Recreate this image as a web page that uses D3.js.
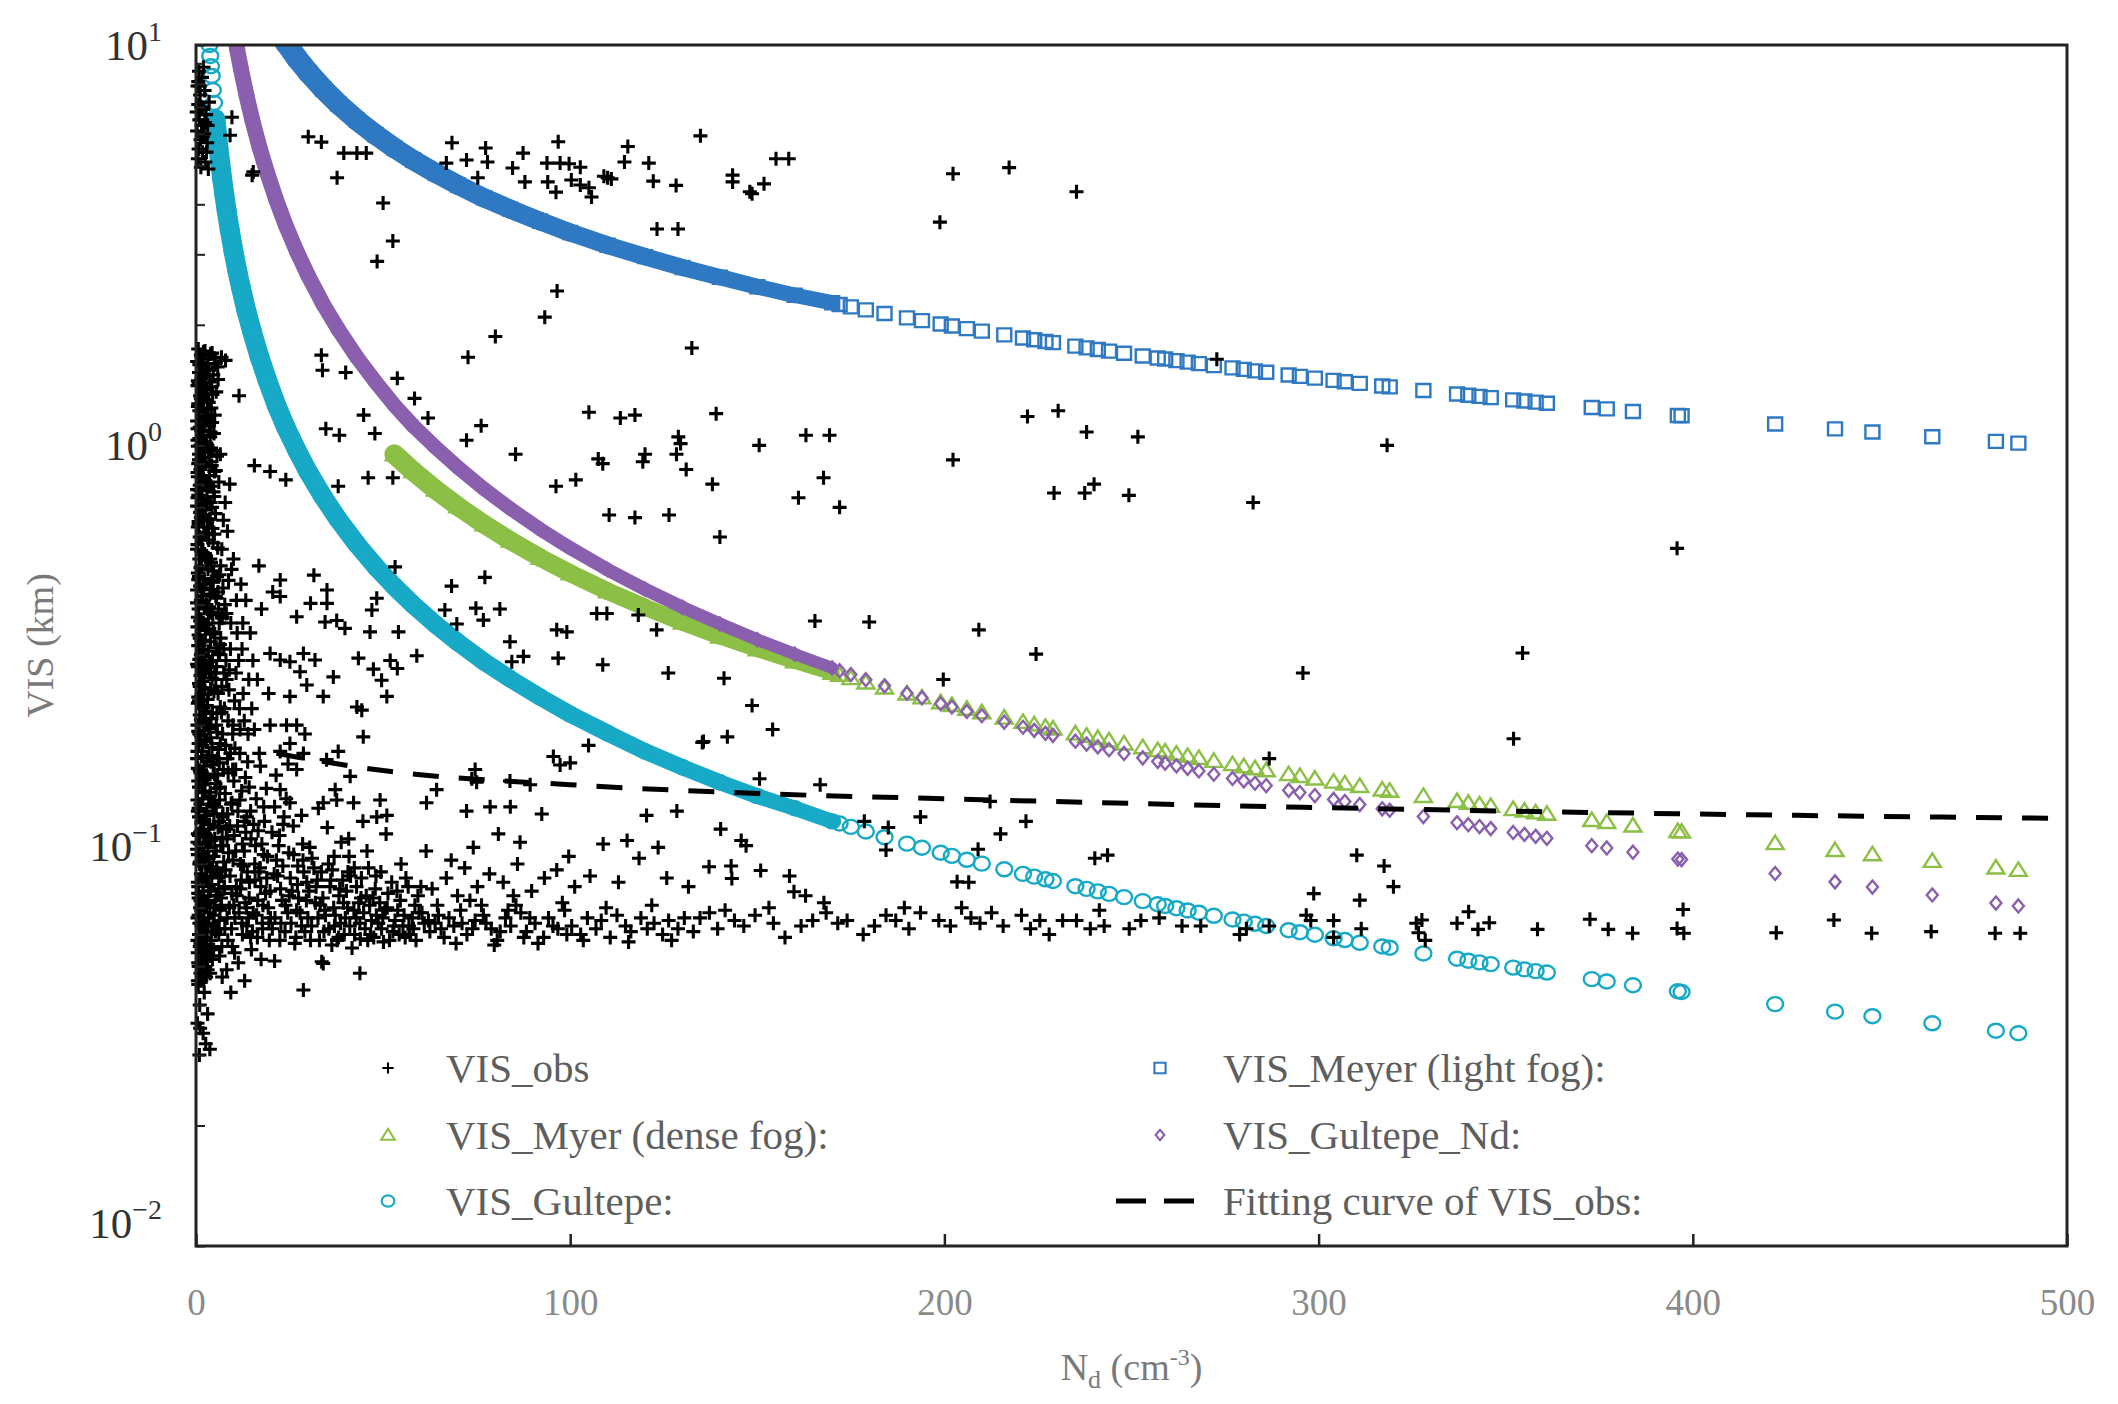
<!DOCTYPE html>
<html>
<head>
<meta charset="utf-8">
<script src="https://cdn.jsdelivr.net/npm/d3@7"></script>
<style>
  body { margin: 0; background: #fff; }
</style>
</head>
<body>
<div id="chart"></div>
<script>
// droplet number concentration (cm-3) at which the model curves are plotted
const ndModel = [3.4, 3.6, 3.8, 4.0, 4.2, 4.5, 4.8, 5.2, 5.6, 6, 6.5, 7, 7.6, 8.2, 9, 10, 11, 12, 13.5, 15,
  17, 19, 21.5, 24, 27, 30, 34, 38, 43, 48, 53, 58, 64, 70, 77, 84, 92, 100, 110, 120,
  130, 140, 150, 160, 170,
  172, 175, 179, 184, 190, 194, 199, 202, 206, 210, 216, 221, 224, 227, 229, 235, 238, 241, 244, 248,
  253, 257, 259, 262, 265, 268, 272, 277, 280, 283, 286, 292, 295, 299, 304, 307, 311, 317, 319, 328,
  337, 340, 343, 346, 352, 355, 358, 361, 373, 377, 384, 396, 397, 422, 438, 448, 464, 481, 487];

const visMeyerLight = [null, null, null, null, null, null, null, null, null, null, null, null, null, null, null, null, null, null, null, null,
  null, null, 11.03, 10.13, 9.26, 8.55, 7.77, 7.13, 6.49, 5.97, 5.53, 5.16, 4.79, 4.47, 4.15, 3.89, 3.63, 3.40, 3.16, 2.96,
  2.78, 2.63, 2.49, 2.37, 2.27,
  2.247, 2.218, 2.179, 2.134, 2.082, 2.049, 2.009, 1.987, 1.957, 1.929, 1.888, 1.854, 1.836, 1.817, 1.805, 1.769, 1.752, 1.736, 1.719, 1.698,
  1.672, 1.652, 1.643, 1.628, 1.614, 1.600, 1.582, 1.561, 1.548, 1.535, 1.522, 1.498, 1.487, 1.472, 1.453, 1.442, 1.428, 1.407, 1.400, 1.371,
  1.343, 1.334, 1.325, 1.316, 1.299, 1.291, 1.282, 1.274, 1.243, 1.233, 1.215, 1.187, 1.185, 1.131, 1.099, 1.080, 1.051, 1.023, 1.013];

const visMeyerDense = [null, null, null, null, null, null, null, null, null, null, null, null, null, null, null, null, null, null, null, null,
  null, null, null, null, null, null, null, null, null, null, 0.950, 0.862, 0.775, 0.704, 0.635, 0.578, 0.524, 0.479, 0.432, 0.394,
  0.361, 0.333, 0.3095, 0.2888, 0.2704,
  0.2670, 0.2621, 0.2557, 0.2483, 0.2399, 0.2346, 0.2282, 0.2246, 0.2198, 0.2154, 0.2089, 0.2038, 0.2009, 0.1980, 0.1962, 0.1908, 0.1882, 0.1857, 0.1832, 0.1800,
  0.1762, 0.1732, 0.1718, 0.1697, 0.1676, 0.1656, 0.1629, 0.1598, 0.1579, 0.1561, 0.1543, 0.1509, 0.1493, 0.1471, 0.1445, 0.1430, 0.1410, 0.1381, 0.1372, 0.1331,
  0.1293, 0.1280, 0.1268, 0.1257, 0.1234, 0.1223, 0.1211, 0.1201, 0.1159, 0.1146, 0.1123, 0.1087, 0.1084, 0.1015, 0.0975, 0.0952, 0.0916, 0.0882, 0.0870];

const visGultepeNd = [null, null, null, null, null, null, null, null, null, null, null, null, null, null, null, 11.05, 9.76, 8.72, 7.48, 6.52,
  5.54, 4.80, 4.09, 3.54, 3.04, 2.65, 2.25, 1.95, 1.66, 1.44, 1.26, 1.12, 0.989, 0.881, 0.778, 0.695, 0.617, 0.554, 0.489, 0.437,
  0.394, 0.358, 0.327, 0.301, 0.278,
  0.2736, 0.2676, 0.2598, 0.2507, 0.2404, 0.2340, 0.2263, 0.2220, 0.2164, 0.2111, 0.2035, 0.1976, 0.1941, 0.1908, 0.1886, 0.1824, 0.1794, 0.1765, 0.1737, 0.1700,
  0.1657, 0.1623, 0.1607, 0.1583, 0.1560, 0.1537, 0.1508, 0.1472, 0.1452, 0.1432, 0.1413, 0.1375, 0.1357, 0.1334, 0.1305, 0.1289, 0.1267, 0.1236, 0.1226, 0.1182,
  0.1141, 0.1128, 0.1116, 0.1103, 0.1079, 0.1067, 0.1055, 0.1043, 0.1000, 0.0987, 0.0963, 0.0926, 0.0923, 0.0852, 0.0812, 0.0788, 0.0753, 0.0719, 0.0707];

const visGultepe = [10.69, 10.0, 9.39, 8.85, 8.37, 7.72, 7.17, 6.53, 6.0, 5.53, 5.05, 4.63, 4.21, 3.85, 3.46, 3.06, 2.74, 2.48, 2.16, 1.92,
  1.66, 1.46, 1.26, 1.11, 0.970, 0.858, 0.743, 0.653, 0.566, 0.498, 0.444, 0.400, 0.357, 0.322, 0.288, 0.261, 0.235, 0.213, 0.191, 0.172,
  0.157, 0.144, 0.133, 0.124, 0.115,
  0.1136, 0.1114, 0.1085, 0.1050, 0.1012, 0.0988, 0.0960, 0.0943, 0.0922, 0.0902, 0.0873, 0.0850, 0.0837, 0.0824, 0.0816, 0.0792, 0.0780, 0.0769, 0.0758, 0.0744,
  0.0727, 0.0714, 0.0707, 0.0698, 0.0689, 0.0680, 0.0668, 0.0654, 0.0646, 0.0638, 0.0630, 0.0615, 0.0608, 0.0599, 0.0587, 0.0581, 0.0572, 0.0560, 0.0556, 0.0538,
  0.0522, 0.0516, 0.0511, 0.0506, 0.0496, 0.0491, 0.0486, 0.0482, 0.0464, 0.0458, 0.0448, 0.0433, 0.0431, 0.0402, 0.0385, 0.0375, 0.0360, 0.0345, 0.0340];

// observed visibility, [Nd, VIS]
const visObs = [
  // near the axis, high visibility
  [0.8,8.6],[1.6,8.3],[0.4,7.9],[2.3,7.7],[1.1,7.5],[0.6,7.1],[1.9,6.9],[2.7,6.7],[0.9,6.5],[1.5,6.3],
  [0.3,6.1],[2.2,6.0],[1.2,5.8],[3.0,5.7],[0.7,5.5],[1.7,5.4],[0.5,5.2],[2.5,5.1],[1.3,4.95],[3.3,4.9],
  [1.0,7.9],[2.0,8.8],[3.1,6.3],[2.8,5.4],[0.2,6.8],[1.4,7.0],[3.5,7.2],[0.6,8.1],[2.4,6.4],[1.8,5.9],
  [9.6,6.6],[9.1,5.95],[15,4.73],[15.3,4.82],
  // upper scatter
  [30,5.9],[33.5,5.72],[39.5,5.37],[43,5.37],[45.5,5.37],[37.7,4.66],[50,4.03],[52.6,3.24],[48.4,2.88],[68.4,5.7],
  [77.4,5.53],[72.3,5.16],[77.9,5.1],[75.3,4.66],[66.9,5.07],[84.6,4.93],[87.4,5.37],[87.9,4.55],[94,4.55],[96.8,5.73],
  [93.8,5.07],[97.3,5.07],[99.7,5.05],[102.7,4.95],[96.2,4.29],[100.3,4.6],[102.7,4.47],[105.7,4.17],[105,4.4],[110,4.66],
  [109,4.7],[111,4.63],[115.4,5.58],[114.5,5.1],[121,5.07],[134.8,5.93],[122.2,4.57],[128.3,4.46],[143.4,4.73],[143.4,4.55],
  [151.8,4.5],[148.6,4.25],[148,4.3],[155,5.2],[158.4,5.2],[202.3,4.77],[217.3,4.94],[235.3,4.3],[198.8,3.61],[123.2,3.47],[128.8,3.47],
  // middle scatter
  [96.5,2.43],[93.2,2.09],[80,1.87],[72.7,1.66],[132.5,1.75],[33.5,1.68],[33.8,1.54],[40,1.52],[53.8,1.47],[58.4,1.31],
  [62,1.17],[11.5,1.33],[44.8,1.19],[34.7,1.1],[38.3,1.06],[47.8,1.07],[76.2,1.12],[72.3,1.03],[105,1.21],[113.4,1.17],
  [117.3,1.19],[128.9,1.05],[129.5,1.01],[139,1.2],[85.4,0.95],[107.5,0.925],[108.7,0.9],[120,0.95],[119.4,0.91],[128.4,0.95],
  [131,0.87],[138,0.8],[150.5,1.0],[163,1.06],[169.3,1.06],[167.7,0.83],[161,0.74],[172,0.70],[110.4,0.67],[117.3,0.66],
  [126.4,0.67],[140,0.59],[202.3,0.92],[222.2,1.18],[230.4,1.22],[238,1.08],[251.7,1.05],[229.3,0.76],[237.5,0.76],[240,0.8],
  [249.3,0.75],[282.5,0.72],[318.3,1.0],[272.8,1.64],[15.6,0.89],[19.8,0.86],[24,0.82],[46,0.83],[52.6,0.83],[38,0.79],
  [96.2,0.79],[101.5,0.82],[395.8,0.553],[354.5,0.303],[352.1,0.185],[295.8,0.27],
  // 0.1 - 0.5 km scatter
  [165.4,0.364],[179.9,0.362],[209.2,0.346],[224.5,0.301],[141.1,0.262],[199.7,0.26],[148.6,0.224],[154.1,0.195],[142,0.187],[135.3,0.181],
  [150.6,0.147],[166.8,0.142],[212.2,0.129],[193.6,0.118],[221.8,0.115],[178.6,0.115],[140.2,0.11],[185,0.111],[145.7,0.103],[147,0.1],
  [215,0.107],[184.4,0.0975],[209,0.098],[240.2,0.093],[243.6,0.0947],[137.1,0.0886],[143,0.089],[143.2,0.0828],[150.9,0.0867],[158.6,0.084],
  [203.4,0.0812],[206.5,0.081],[159.8,0.0767],[162.9,0.075],[310.2,0.0947],[317.5,0.089],[320,0.079],[298.7,0.0759],[311,0.0731],[286.8,0.165],
  [22.5,0.461],[22.5,0.419],[31.5,0.474],[35,0.435],[35,0.403],[30.6,0.403],[26.9,0.373],[34.5,0.362],[37.6,0.365],[39.8,0.349],
  [46.5,0.342],[47,0.388],[48.3,0.415],[54.1,0.342],[53.2,0.497],[68.3,0.445],[77.2,0.468],[66.5,0.388],[74.8,0.392],[81.2,0.39],
  [76.8,0.366],[69.7,0.358],[96.4,0.346],[99.1,0.342],[107.1,0.38],[109.8,0.38],[118.2,0.377],[123.1,0.346],[83.9,0.323],[87.5,0.297],
  [84.4,0.288],[96.8,0.294],[108.7,0.283],[126.2,0.27],[59,0.298],[53.8,0.277],[51.9,0.29],[43.4,0.294],[43,0.222],[44.3,0.218],
  [44.7,0.187],[51,0.236],[47.4,0.276],[49.6,0.259],[36.7,0.264],[34,0.236],[31.8,0.291],[28.7,0.302],[25.1,0.288],[19.8,0.302],
  [22.5,0.291],[27.8,0.272],[29.6,0.252],[25.1,0.236],[24.2,0.2],[26.9,0.2],[29.1,0.19],[25.1,0.18],[22.5,0.172],[28.7,0.17],
  [34.9,0.164],[38,0.172],[41.2,0.149],[37.2,0.138],[26.9,0.155],[22.5,0.138],[25.1,0.128],[34,0.128],[37.6,0.13],[42.1,0.128],
  [49.2,0.13],[48.3,0.118],[51,0.119],[61.6,0.128],[64.3,0.138],[95.5,0.167],[97.3,0.159],[100,0.161],[104.9,0.178],[135.6,0.182],
  [120.4,0.119],[128.5,0.122],[92.4,0.12],[84,0.125],[78.6,0.125],[72.3,0.122],[73.7,0.147],[75,0.144],[89.3,0.142],[74.6,0.155],[83.9,0.145],
  // fan close to the axis
  [6.5,0.95],[7.8,0.72],[8.4,0.61],[6.9,0.55],[9.5,0.49],[7.2,0.44],[10.8,0.41],[8.1,0.38],[12.5,0.36],[6.6,0.33],
  [9.2,0.31],[11.4,0.29],[7.5,0.27],[14.1,0.26],[8.8,0.245],[10.3,0.23],[6.8,0.215],[12.9,0.205],[15.6,0.195],[9.8,0.19],
  [7.9,0.178],[11.7,0.17],[13.8,0.162],[17.2,0.158],[8.6,0.152],[10.1,0.145],[6.4,0.14],[12.2,0.137],[16.1,0.131],[9.4,0.127],
  [14.6,0.122],[7.1,0.118],[18.3,0.115],[11.1,0.112],[13.3,0.108],[8.3,0.104],[15.9,0.1],[10.6,0.097],[19.1,0.094],[7.4,0.091],
  [12.7,0.089],[16.8,0.086],[9.1,0.084],[14.3,0.081],[11.9,0.078],[18.6,0.076],[6.7,0.074],[13.1,0.072],[8.9,0.07],[15.3,0.068],
  [10.4,0.066],[17.7,0.064],[7.7,0.062],[12.4,0.06],[19.6,0.058],[9.7,0.056],[14.8,0.055],[6.3,0.053],[11.3,0.051],[8.2,0.049],
  [7.0,0.047],[16.4,0.059],[13.6,0.063],[10.9,0.075],[17.9,0.071],[19.9,0.066],[6.1,0.083],[8.7,0.096],[16.6,0.109],[18.8,0.139],
  [13.9,0.19],[11.6,0.22],[19.4,0.24],[8.0,0.29],[10.0,0.52],[12.0,0.45],[7.3,0.65],[14.5,0.34],[9.0,0.8],[17.5,0.39],[20.5,0.43],[16.8,0.5],
  [5.6,0.47],[7.7,0.4],[9.3,0.36],[6.3,0.3],[8.2,0.26],[10.7,0.27],[12.3,0.31],[5.9,0.24],[7.6,0.22],[9.9,0.2],
  [11.8,0.195],[14.9,0.22],[6.5,0.18],[8.4,0.165],[10.6,0.155],[13.2,0.148],[16.9,0.17],[5.8,0.15],[7.8,0.135],[9.6,0.128],
  [11.2,0.122],[13.6,0.118],[15.4,0.113],[18.1,0.125],[6.1,0.115],[8.1,0.11],[10.2,0.106],[12.4,0.101],[14.7,0.104],[17.6,0.101],
  [20.3,0.108],[23.3,0.113],[21.4,0.15],[24.6,0.16],[19.8,0.2],[16.4,0.26],[13.3,0.41],[11.0,0.34],[8.7,0.46],[7.0,0.37],
  [5.3,0.42],[6.2,0.36],[7.4,0.31],[5.5,0.28],[8.9,0.275],[6.9,0.25],[5.4,0.2],[8.6,0.205],[7.1,0.19],[9.2,0.17],
  [5.7,0.165],[7.3,0.155],[9.8,0.155],[6.3,0.13],[8.4,0.12],[11.7,0.13],[5.4,0.125],[7.0,0.105],[9.0,0.112],[12.9,0.115],
  [14.2,0.14],[10.4,0.175],[12.6,0.24],[15.2,0.29],[6.0,0.39],
  // 5 - 60 cm-3 cloud
  [21,0.125],[23.5,0.118],[26,0.112],[22.3,0.106],[28.5,0.101],[24.8,0.096],[31,0.093],[27.2,0.089],[33.5,0.086],[21.8,0.084],
  [29.6,0.081],[35.8,0.079],[25.7,0.077],[38.2,0.075],[23,0.073],[31.9,0.072],[40.5,0.07],[27.8,0.068],[34.6,0.067],[42.8,0.066],
  [22.7,0.064],[37,0.063],[45.2,0.062],[29.1,0.061],[39.6,0.06],[47.5,0.059],[33,0.058],[43.9,0.0585],[26.4,0.057],[50.1,0.0575],
  [36.3,0.0565],[41.7,0.0555],[52.6,0.061],[48.7,0.064],[55.3,0.063],[57.8,0.066],[53.9,0.069],[46.4,0.071],[59.6,0.068],[44.1,0.074],
  [51.3,0.076],[56.7,0.079],[39.2,0.082],[48.1,0.084],[42.3,0.088],[54.8,0.09],[36.9,0.094],[45.7,0.097],[30.4,0.099],[40.8,0.104],
  [50.8,0.107],[35.1,0.111],[44.6,0.115],[28.2,0.119],[32.7,0.124],[24.1,0.131],[38.8,0.102],[58.5,0.071],[49.9,0.066],[61,0.064],
  [5.5,0.088],[7.6,0.079],[9.9,0.092],[11.5,0.068],[13.7,0.086],[15.1,0.061],[17.3,0.079],[19.3,0.07],[21.5,0.092],[23.8,0.061],
  [25.2,0.083],[27.4,0.074],[29.9,0.066],[32.1,0.079],[34.2,0.061],[36.8,0.07],[38.6,0.064],[40.2,0.077],[42.4,0.06],[44.8,0.068],
  [46.9,0.065],[49.1,0.072],[51.7,0.058],[53.2,0.065],[55.9,0.059],[58.1,0.062],[6.2,0.065],[8.5,0.058],[10.3,0.054],[12.1,0.082],
  [14.2,0.074],[16.2,0.067],[18.1,0.095],[20.4,0.062],[22.6,0.078],[24.5,0.068],[26.7,0.059],[28.8,0.086],[30.9,0.063],[33.2,0.071],
  [35.4,0.09],[37.7,0.058],[39.9,0.066],[41.3,0.084],[43.5,0.072],[45.9,0.058],[47.9,0.078],[50.5,0.069],[52.3,0.081],[54.6,0.073],
  [57.2,0.06],[59.3,0.075],[7.2,0.1],[9.6,0.076],[12.9,0.097],[15.7,0.09],[18.9,0.083],[22.1,0.1],[26.1,0.095],[31.5,0.088],
  [36,0.082],[40.9,0.094],[46.1,0.088],
  [5.2,0.061],[6.8,0.071],[8.3,0.066],[9.5,0.062],[10.8,0.079],[12.3,0.064],[13.5,0.07],[14.6,0.059],[16.5,0.073],[17.8,0.062],
  [19.8,0.077],[21.1,0.066],[22.4,0.058],[23.9,0.071],[25.4,0.064],[26.9,0.069],[28.2,0.063],[29.5,0.073],[30.6,0.058],[32.6,0.066],
  [33.9,0.074],[35.5,0.062],[37.2,0.067],[38.1,0.059],[39.4,0.072],[41.1,0.063],[42.2,0.069],[43.8,0.064],[45.5,0.075],[46.6,0.06],
  [48.2,0.067],[49.6,0.062],[51.1,0.07],[52.9,0.063],[54.3,0.06],[55.6,0.067],[56.9,0.063],[58.8,0.058],[60.4,0.068],[62.1,0.065],
  [65.5,0.062],[67.6,0.066],[71.1,0.064],[73.9,0.062],[77.5,0.064],[81.3,0.061],[83.4,0.069],[89.2,0.066],[95.4,0.063],[99.1,0.06],
  [6.0,0.078],[7.9,0.087],[10.1,0.071],[11.9,0.09],[14.0,0.066],[15.8,0.082],[17.1,0.088],[19.5,0.064],[20.9,0.085],[23.2,0.089],
  [24.9,0.075],[27.1,0.08],[28.6,0.092],[30.2,0.077],[32.4,0.082],[34.4,0.069],[36.4,0.087],[38.4,0.078],[40.6,0.086],[42.9,0.079],
  [44.2,0.083],[47.3,0.074],[49.4,0.086],[53.7,0.077],[56.1,0.083],[60.1,0.079],[64.5,0.071],[69.9,0.075],[76.8,0.067],[84.8,0.075],
  // 60 - 135 cm-3 lower band
  [62.5,0.061],[64.8,0.067],[66.3,0.059],[68.9,0.063],[70.7,0.069],[72.4,0.06],[74.6,0.065],[76.3,0.071],[78.9,0.062],[80.5,0.058],
  [82.7,0.066],[84.1,0.063],[86.8,0.068],[88.3,0.061],[90.6,0.064],[92.9,0.059],[94.2,0.066],[96.7,0.062],[98.5,0.069],[100.4,0.063],
  [102.8,0.06],[104.6,0.066],[106.9,0.062],[108.3,0.065],[110.7,0.059],[112.5,0.067],[114.8,0.063],[116.2,0.061],[118.9,0.066],[120.6,0.062],
  [122.4,0.064],[124.7,0.06],[126.3,0.065],[128.8,0.062],[130.5,0.066],[132.9,0.061],[69.5,0.057],[79.7,0.0565],[91.4,0.057],[103.5,0.058],
  [115.6,0.0575],[127.1,0.058],[73.2,0.073],[85.5,0.071],[97.9,0.072],[109.6,0.07],[121.8,0.071],[63.9,0.064],[87.6,0.059],
  [63.1,0.078],[66.9,0.083],[71.8,0.088],[75.2,0.079],[68.2,0.092],[78.4,0.085],[82.1,0.081],[85.9,0.09],[89.7,0.077],[93.1,0.083],
  [61.5,0.097],[74.1,0.099],[96.4,0.087],[101.2,0.079],[105.3,0.084],[112.9,0.081],[118.4,0.093],[125.8,0.083],[131.6,0.079],[108.8,0.101],
  [123.5,0.099],[99.6,0.094],[80.8,0.107],[86.6,0.102],[115.2,0.103],
  // 135 - 330 cm-3 lower band
  [134.7,0.066],[137.2,0.068],[139.4,0.062],[141.4,0.069],[143.9,0.065],[146.4,0.063],[149.4,0.067],[153.1,0.070],[154.3,0.064],[157.4,0.059],
  [161.7,0.063],[164.8,0.065],[167.8,0.072],[168.4,0.068],[171.5,0.064],[174,0.065],[178.3,0.060],[181.3,0.063],[184.4,0.067],[187,0.065],
  [189.3,0.070],[190.5,0.062],[193.6,0.068],[198.5,0.065],[201.6,0.063],[204.6,0.070],[207.1,0.066],[209.5,0.064],[212.6,0.068],[215.7,0.063],
  [220.6,0.067],[223,0.062],[225.5,0.065],[228,0.060],[231.6,0.065],[235.3,0.065],[239,0.062],[241.4,0.069],[242.7,0.063],[249.4,0.062],
  [252.5,0.065],[257.4,0.066],[263.5,0.063],[268.5,0.063],[278.9,0.060],[280.7,0.062],[286.8,0.063],[296.7,0.067],[297.9,0.065],[304,0.065],
  [304,0.059],[311.4,0.062],[326.1,0.064],
  // sparse right part
  [327.6,0.0652],[326.7,0.0606],[328.5,0.058],[337,0.064],[340.1,0.0684],[342.6,0.0618],[345.6,0.0642],[358.5,0.0618],[372.5,0.0655],[377.4,0.0618],
  [383.9,0.0604],[395.8,0.0621],[397.4,0.0693],[397.6,0.0604],[422.3,0.0606],[437.7,0.0652],[447.8,0.0604],[463.7,0.061],[480.8,0.0604],[487.5,0.0604],
  // low outliers
  [34,0.0508],[43.8,0.048],[28.7,0.0436],[33.6,0.0513],[21,0.0515],[13,0.046],[9.3,0.043],[17.4,0.052],
  [0.5,0.046],[2.2,0.043],[1.0,0.04],[3.1,0.038],[0.4,0.036],[1.9,0.034],[2.6,0.032],[0.9,0.03],[3.7,0.031],[1.1,0.035],
  // dense column next to the axis
  [0.6,1.74],[2.4,1.72],[4.3,1.7],[1.3,1.68],[6.8,1.66],[3.2,1.64],[0.3,1.62],[5.1,1.6],[1.9,1.58],[7.9,1.63],
  [2.8,1.55],[0.8,1.52],[4.6,1.5],[1.5,1.47],[3.7,1.44],[0.4,1.41],[2.2,1.38],[5.4,1.36],[1.1,1.33],[3.0,1.3],
  [0.6,1.27],[4.1,1.24],[1.8,1.21],[2.7,1.18],[0.3,1.15],[3.5,1.12],[1.4,1.09],[4.8,1.07],[0.9,1.04],[2.3,1.02],
  [0.5,0.995],[3.3,0.98],[1.7,0.96],[5.6,0.94],[0.8,0.92],[2.6,0.905],[4.2,0.89],[1.2,0.87],[0.4,0.855],[3.6,0.84],
  [2.0,0.825],[6.1,0.81],[1.0,0.795],[2.9,0.78],[4.7,0.765],[0.6,0.75],[1.6,0.735],[3.9,0.72],[0.3,0.705],[2.4,0.69],
  [5.2,0.675],[1.3,0.66],[3.1,0.65],[0.7,0.635],[4.4,0.62],[2.1,0.605],[1.0,0.59],[3.4,0.58],[0.4,0.565],[5.8,0.555],
  [1.8,0.54],[2.7,0.53],[0.9,0.52],[4.0,0.51],[1.5,0.5],
  [3.2,0.49],[0.5,0.48],[6.3,0.475],[2.2,0.465],[4.6,0.455],[1.1,0.445],[0.3,0.435],[3.7,0.425],[5.5,0.415],[1.8,0.408],
  [2.8,0.4],[0.7,0.39],[4.1,0.382],[6.9,0.375],[1.4,0.368],[3.3,0.36],[0.4,0.352],[2.5,0.345],[5.0,0.338],[1.0,0.33],
  [3.9,0.323],[0.6,0.316],[2.0,0.31],[6.0,0.303],[1.6,0.296],[4.4,0.29],[0.3,0.284],[2.9,0.278],[3.6,0.272],[1.2,0.266],
  [5.3,0.26],[0.8,0.254],[2.3,0.248],[4.8,0.243],[1.5,0.238],[3.1,0.232],[0.5,0.227],[6.5,0.222],[2.6,0.217],[1.0,0.212],
  [4.0,0.208],[1.9,0.204],[0.4,0.2],[3.4,0.196],[5.7,0.192],
  [1.3,0.188],[2.7,0.184],[0.7,0.18],[4.3,0.176],[1.8,0.172],[3.5,0.168],[0.3,0.165],[6.2,0.161],[2.2,0.158],[1.0,0.154],
  [4.9,0.151],[3.0,0.148],[0.6,0.145],[1.6,0.142],[5.4,0.139],[2.4,0.136],[3.8,0.133],[0.4,0.13],[1.2,0.127],[4.5,0.125],
  [2.9,0.122],[7.2,0.12],[0.8,0.118],[2.0,0.115],[3.6,0.113],[5.9,0.111],[1.4,0.109],[0.5,0.107],[2.6,0.105],[4.1,0.103],
  [1.0,0.101],[6.6,0.1],[3.2,0.099],
  [0.3,0.098],[1.7,0.096],[4.7,0.094],[2.3,0.092],[0.9,0.09],[3.9,0.088],[5.6,0.086],[1.3,0.085],[2.8,0.083],[0.5,0.081],
  [4.2,0.08],[7.5,0.078],[1.9,0.077],[3.3,0.075],[0.7,0.074],[5.1,0.073],[2.5,0.071],[1.1,0.07],[6.4,0.069],[3.7,0.068],
  [0.4,0.066],[2.0,0.065],[4.6,0.064],[1.5,0.063],[5.8,0.062],[3.0,0.061],[0.8,0.06],[2.4,0.059],[4.0,0.058],[1.2,0.057],
  [6.9,0.056],[3.5,0.055],[0.5,0.054],[2.1,0.053],[4.4,0.052],[1.6,0.051],[0.9,0.05],[3.1,0.049],[2.7,0.047],[1.4,0.046],[0.6,0.045],
  [3.9,1.69],[1.0,1.61],[5.8,1.57],[2.6,1.49],[0.5,1.45],[4.2,1.4],[1.7,1.35],[3.4,1.28],[0.9,1.22],[5.0,1.19],
  [2.0,1.13],[0.4,1.1],[3.8,1.05],[1.2,1.0],[4.5,0.97],[2.3,0.935],[0.6,0.9],[5.3,0.865],[1.5,0.83],[3.2,0.8],
  [0.3,0.775],[4.9,0.745],[2.2,0.715],[1.1,0.68],[3.8,0.655],[0.5,0.625],[2.6,0.598],[4.6,0.57],[1.4,0.545],[3.0,0.515],
  [6.6,0.5],[0.8,0.47],[4.3,0.46],[2.0,0.44],[5.9,0.43],[1.3,0.41],[3.5,0.395],[0.5,0.372],[2.7,0.356],[4.7,0.342],
  [1.5,0.325],[6.4,0.318],[3.3,0.306],[0.9,0.292],[2.4,0.276],[5.1,0.27],[1.8,0.257],[3.9,0.246],[0.6,0.235],[2.9,0.224],
  [5.6,0.214],[1.3,0.206],[3.7,0.198],[0.9,0.19],[2.5,0.182],[6.0,0.174],[1.5,0.167],[4.0,0.162],[0.5,0.156],[2.8,0.15],
  [5.2,0.143],[1.9,0.137],[3.4,0.131],[0.7,0.124],[4.8,0.12],[2.2,0.116],[6.3,0.112],[1.1,0.108],[3.8,0.104],[0.4,0.102],
  [5.4,0.097],[2.6,0.094],[1.0,0.091],[4.4,0.087],[6.8,0.084],[1.8,0.082],[3.4,0.079],[0.6,0.076],[5.5,0.075],[2.9,0.072],
  [1.4,0.069],[4.8,0.067],[0.9,0.064],[3.2,0.063],[6.1,0.06],[2.2,0.058],[1.0,0.056],[4.7,0.055],[2.9,0.052],[0.7,0.05],
  [3.8,0.048],[1.9,0.047],
  [2.0,1.71],[4.9,1.65],[0.9,1.59],[3.5,1.54],[1.6,1.51],[5.9,1.46],[0.7,1.43],[2.9,1.39],[4.4,1.34],[1.3,1.31],
  [0.5,1.25],[3.1,1.23],[2.4,1.16],[4.3,1.14],[1.0,1.11],[3.9,1.08],[1.9,1.06],[0.4,1.03],[2.8,1.01],[4.0,0.985],
  [0.8,0.95],[2.1,0.93],[3.6,0.91],[1.4,0.885],[4.9,0.86],[0.5,0.835],[2.5,0.815],[3.9,0.79],[1.2,0.77],[0.4,0.74],
  [2.9,0.725],[4.3,0.7],[1.8,0.67],[0.7,0.645],[3.3,0.625],[4.9,0.6],[1.6,0.585],[0.3,0.55],[2.3,0.535],[3.8,0.52],
  [1.2,0.495],[4.7,0.485],[0.6,0.462],[2.6,0.45],[3.9,0.436],[1.6,0.42],[0.3,0.404],[2.2,0.392],[4.5,0.378],[1.1,0.364],
  [3.0,0.348],[0.7,0.336],[2.4,0.326],[5.4,0.312],[1.3,0.3],[3.6,0.288],[0.5,0.28],[2.1,0.27],[4.3,0.262],[1.0,0.25],
  [3.3,0.24],[0.8,0.23],[2.0,0.221],[4.4,0.214],[1.4,0.207],[2.7,0.2],[0.6,0.193],[3.9,0.186],[1.6,0.178],[0.4,0.172],
  [2.9,0.166],[4.6,0.159],[1.2,0.152],[2.3,0.146],[0.8,0.14],[3.8,0.136],[1.7,0.131],[4.7,0.127],[0.5,0.122],[2.6,0.119],
  [1.4,0.114],[3.3,0.11],[0.8,0.106],[5.0,0.104],[2.0,0.1],[0.5,0.095],[3.4,0.093],[1.6,0.089],[4.9,0.086],[2.6,0.084],
  [0.6,0.079],[3.9,0.077],[1.2,0.073],[2.1,0.071],[4.8,0.07],[0.7,0.067],[3.3,0.066],[1.7,0.062],[4.2,0.061],[0.4,0.058],
  [2.8,0.056],[1.5,0.054],[3.9,0.053],[0.6,0.051],[2.5,0.05],[1.2,0.048]
];

// fitting curve of VIS_obs
const fitNd = [21.5, 50, 100, 150, 200, 300, 400, 500];
const fitVis = [0.170, 0.154, 0.142, 0.135, 0.131, 0.1245, 0.120, 0.117];

const xTicks = [0, 100, 200, 300, 400, 500];
const yTickExp = [1, 0, -1, -2];

const width = 2118, height = 1404;
const plotL = 196, plotR = 2067, plotT = 45, plotB = 1246;
const font = "'Liberation Serif', 'DejaVu Serif', serif";

const svg = d3.select("#chart")
    .append("svg")
    .attr("width", width)
    .attr("height", height);

const x = d3.scaleLinear().domain([0, 500]).range([plotL, plotR]);
const y = d3.scaleLog().domain([0.01, 10]).range([plotB, plotT]);

svg.append("defs").append("clipPath").attr("id", "plotClip")
    .append("rect")
    .attr("x", plotL - 10).attr("y", plotT)
    .attr("width", plotR - plotL + 10).attr("height", plotB - plotT);

const shapes = {
    plus: "M-7,0H7M0,-7V7",
    square: "M-7,-6.5H7V6.5H-7Z",
    triangle: "M0,-7.5L8.5,6H-8.5Z",
    diamond: "M0,-6.5L5.5,0L0,6.5L-5.5,0Z",
    circle: "M-8,0A8,7 0 1,0 8,0A8,7 0 1,0 -8,0Z"
};

// band = width of the overlapped marker ribbon at its start and at bandTo
const models = [
    { name: "VIS_Meyer (light fog):", vis: visMeyerLight, color: "#2f78c2", shape: "square", band: [22, 15], bandFrom: 0 },
    { name: "VIS_Myer (dense fog):", vis: visMeyerDense, color: "#8cbf45", shape: "triangle", band: [20, 15], bandFrom: 0 },
    { name: "VIS_Gultepe_Nd:", vis: visGultepeNd, color: "#8a5fae", shape: "diamond", band: [16, 12], bandFrom: 0 },
    { name: "VIS_Gultepe:", vis: visGultepe, color: "#17a9c6", shape: "circle", band: [20, 15], bandFrom: 5.2 }
];
const bandTo = 170;

const plot = svg.append("g").attr("clip-path", "url(#plotClip)");

const line = d3.line()
    .x(d => x(d.nd))
    .y(d => y(d.v))
    .curve(d3.curveMonotoneX);

models.forEach(m => {
    const pts = ndModel.map((nd, i) => ({ nd: nd, v: m.vis[i] })).filter(d => d.v != null);
    const bandPts = pts.filter(d => d.nd >= m.bandFrom && d.nd <= bandTo);
    const w = d3.scaleLinear().domain([bandPts[0].nd, bandTo]).range(m.band);

    plot.append("g")
        .selectAll("line")
        .data(d3.pairs(bandPts))
        .join("line")
        .attr("x1", d => x(d[0].nd)).attr("y1", d => y(d[0].v))
        .attr("x2", d => x(d[1].nd)).attr("y2", d => y(d[1].v))
        .attr("stroke", m.color)
        .attr("stroke-width", d => w((d[0].nd + d[1].nd) / 2))
        .attr("stroke-linecap", "round");

    plot.append("g")
        .selectAll("path")
        .data(pts)
        .join("path")
        .attr("transform", d => `translate(${x(d.nd)},${y(d.v)})`)
        .attr("d", shapes[m.shape])
        .attr("fill", "none")
        .attr("stroke", m.color)
        .attr("stroke-width", 2.4);
});

plot.append("g")
    .selectAll("path")
    .data(visObs)
    .join("path")
    .attr("transform", d => `translate(${x(d[0])},${y(d[1])})`)
    .attr("d", shapes.plus)
    .attr("fill", "none")
    .attr("stroke", "#000")
    .attr("stroke-width", 3.1);

plot.append("path")
    .datum(fitNd.map((nd, i) => ({ nd: nd, v: fitVis[i] })))
    .attr("d", line)
    .attr("fill", "none")
    .attr("stroke", "#000")
    .attr("stroke-width", 5)
    .attr("stroke-dasharray", "26,20");

// x axis, ticks pointing inwards
const xAxis = svg.append("g")
    .attr("transform", `translate(0,${plotB})`)
    .call(d3.axisBottom(x).tickValues(xTicks).tickSize(-12).tickPadding(43));
xAxis.select(".domain").remove();
xAxis.selectAll(".tick line").attr("stroke", "#222").attr("stroke-width", 2.5);
xAxis.selectAll(".tick text")
    .style("font-family", font)
    .style("font-size", "37px")
    .attr("fill", "#8a8a8a");

// y axis minor / major ticks
const yAxis = svg.append("g")
    .attr("transform", `translate(${plotL},0)`)
    .call(d3.axisLeft(y).tickValues(y.ticks()).tickSize(-9).tickFormat(""));
yAxis.select(".domain").remove();
yAxis.selectAll(".tick line").attr("stroke", "#222").attr("stroke-width", 2);

const yLab = svg.append("g");
yTickExp.forEach(e => {
    const ty = Math.min(y(Math.pow(10, e)), plotB - 23);
    const t = yLab.append("text")
        .attr("x", 162)
        .attr("y", ty)
        .attr("text-anchor", "end")
        .attr("dominant-baseline", "central")
        .style("font-family", font)
        .style("font-size", "43px")
        .attr("fill", "#333");
    t.append("tspan").text("10");
    t.append("tspan")
        .attr("dy", -14)
        .style("font-size", "28px")
        .text(e < 0 ? "\u2212" + (-e) : String(e));
});

// frame
svg.append("rect")
    .attr("x", plotL).attr("y", plotT)
    .attr("width", plotR - plotL).attr("height", plotB - plotT)
    .attr("fill", "none")
    .attr("stroke", "#222")
    .attr("stroke-width", 3);

// axis titles
const xt = svg.append("text")
    .attr("x", (plotL + plotR) / 2)
    .attr("y", 1380)
    .attr("text-anchor", "middle")
    .style("font-family", font)
    .style("font-size", "38px")
    .attr("fill", "#7a7a7a");
xt.append("tspan").text("N");
xt.append("tspan").attr("dy", 8).style("font-size", "26px").text("d");
xt.append("tspan").attr("dy", -8).text(" (cm");
xt.append("tspan").attr("dy", -15).style("font-size", "24px").text("-3");
xt.append("tspan").attr("dy", 15).text(")");

svg.append("text")
    .attr("transform", `translate(40,${(plotT + plotB) / 2}) rotate(-90)`)
    .attr("text-anchor", "middle")
    .attr("dominant-baseline", "central")
    .style("font-family", font)
    .style("font-size", "38px")
    .attr("fill", "#7a7a7a")
    .text("VIS (km)");

// legend
const legendItems = [
    { name: "VIS_obs", shape: "plus", color: "#000", col: 0, row: 0 },
    { name: models[1].name, shape: "triangle", color: models[1].color, col: 0, row: 1 },
    { name: models[3].name, shape: "circle", color: models[3].color, col: 0, row: 2 },
    { name: models[0].name, shape: "square", color: models[0].color, col: 1, row: 0 },
    { name: models[2].name, shape: "diamond", color: models[2].color, col: 1, row: 1 },
    { name: "Fitting curve of VIS_obs:", shape: "dash", color: "#000", col: 1, row: 2 }
];
const legSymX = [388, 1160], legTextX = [446, 1223], legRowY = [1068, 1135, 1201];

const leg = svg.append("g");
legendItems.forEach(it => {
    const ly = legRowY[it.row];
    if (it.shape === "dash") {
        leg.append("line")
            .attr("x1", 1116).attr("x2", 1194)
            .attr("y1", ly).attr("y2", ly)
            .attr("stroke", "#000")
            .attr("stroke-width", 5)
            .attr("stroke-dasharray", "30,18");
    } else {
        leg.append("path")
            .attr("transform", `translate(${legSymX[it.col]},${ly}) scale(0.8)`)
            .attr("d", shapes[it.shape])
            .attr("fill", "none")
            .attr("stroke", it.color)
            .attr("stroke-width", 2.6);
    }
    leg.append("text")
        .attr("x", legTextX[it.col])
        .attr("y", ly)
        .attr("dominant-baseline", "central")
        .style("font-family", font)
        .style("font-size", "41px")
        .attr("fill", "#5e5e5e")
        .text(it.name);
});
</script>
</body>
</html>
